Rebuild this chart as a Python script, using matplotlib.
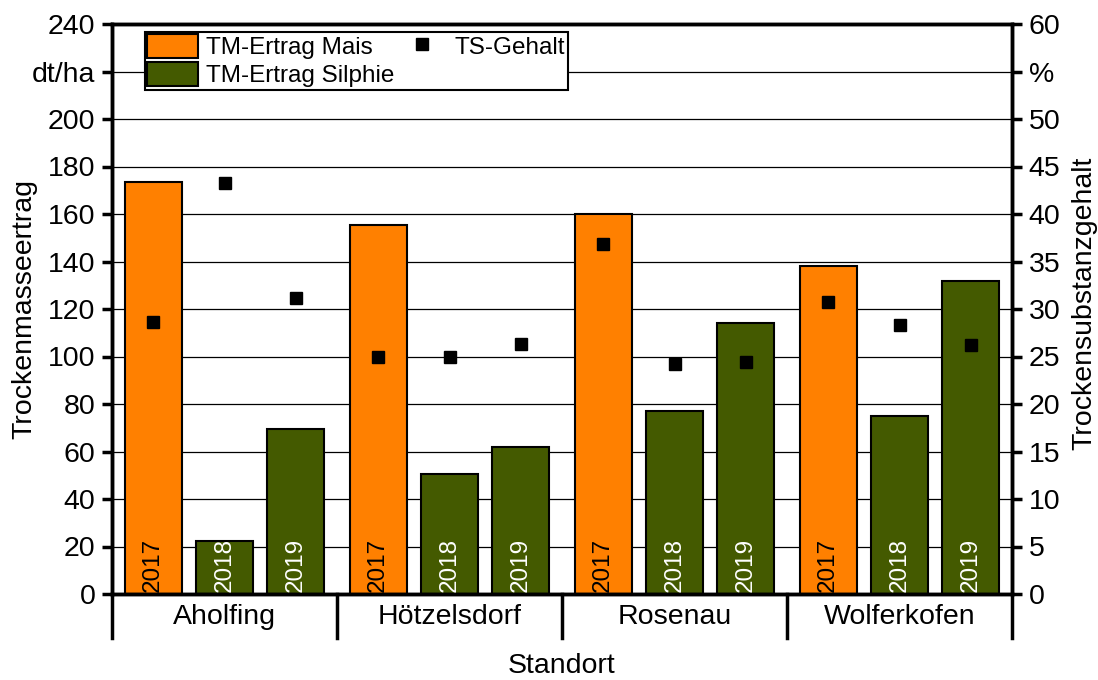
import matplotlib
matplotlib.use("Agg")
import matplotlib.pyplot as plt
from matplotlib.lines import Line2D
from matplotlib.patches import Patch
import matplotlib.transforms as mtransforms

plt.rcParams['font.family'] = ['Liberation Sans', 'DejaVu Sans']

standorte = ["Aholfing", "Hötzelsdorf", "Rosenau", "Wolferkofen"]
jahre = ["2017", "2018", "2019"]
kultur = ["Mais", "Silphie", "Silphie"]
ertrag = [
    [173.5, 22.5, 69.5],
    [155.5, 50.5, 62.0],
    [160.0, 77.0, 114.0],
    [138.0, 75.0, 132.0],
]
ts_gehalt = [
    [28.6, 43.3, 31.2],
    [25.0, 24.9, 26.3],
    [36.8, 24.2, 24.4],
    [30.7, 28.3, 26.2],
]
left_ticks = [0, 20, 40, 60, 80, 100, 120, 140, 160, 180, 200, 220, 240]
left_labels = ["0", "20", "40", "60", "80", "100", "120", "140", "160", "180", "200", "dt/ha", "240"]
right_ticks = [0, 5, 10, 15, 20, 25, 30, 35, 40, 45, 50, 55, 60]
right_labels = ["0", "5", "10", "15", "20", "25", "30", "35", "40", "45", "50", "%", "60"]

c_mais = "#FF8000"
c_silphie = "#445A00"

fig = plt.figure(figsize=(10.98, 6.8), dpi=100)
ax = fig.add_axes([112/1098, 86/680, 900/1098, 570/680])
ax2 = ax.twinx()

fs = 20.5
for g, name in enumerate(standorte):
    for i, yr in enumerate(jahre):
        x = g * 3 + 1 + (i - 1) * 0.953
        col = c_mais if kultur[i] == "Mais" else c_silphie
        ax.bar(x, ertrag[g][i], width=0.76, color=col, edgecolor="black", linewidth=1.5, zorder=2)
        ax.text(x, 1.0, yr, rotation=90, ha="center", va="bottom", fontsize=17.5,
                color="black" if kultur[i] == "Mais" else "white", zorder=3)
        ax2.plot(x, ts_gehalt[g][i], marker="s", color="black", ms=8.5, ls="none", zorder=4)

ax.set_xlim(-0.5, 11.5)
ax.set_ylim(0, 240)
ax2.set_ylim(0, 60)
ax.set_yticks(left_ticks)
ax.set_yticklabels(left_labels, fontsize=fs)
ax2.set_yticks(right_ticks)
ax2.set_yticklabels(right_labels, fontsize=fs)
ax.set_xticks([])
ax.yaxis.grid(True, color="black", linewidth=0.9)
ax.set_axisbelow(True)

for a in (ax, ax2):
    for s in a.spines.values():
        s.set_linewidth(2.5)
    a.tick_params(axis="y", length=7, width=2.5, pad=5)

ax.set_ylabel("Trockenmasseertrag", fontsize=fs)
ax.yaxis.set_label_coords(-0.083, 0.5)
ax2.set_ylabel("Trockensubstanzgehalt", fontsize=fs)
ax2.yaxis.set_label_coords(1.0665, 0.51)

trans = mtransforms.blended_transform_factory(ax.transData, ax.transAxes)
for b in [-0.5, 2.5, 5.5, 8.5, 11.5]:
    ax.add_line(Line2D([b, b], [0, -44/570], transform=trans, color="black",
                       linewidth=2.5, clip_on=False))
for g, name in enumerate(standorte):
    ax.text(g * 3 + 1, -23/570, name, transform=trans, ha="center", va="center", fontsize=fs)
ax.text(0.5, -72/570, "Standort", transform=ax.transAxes, ha="center", va="center", fontsize=fs)

handles = [
    Patch(facecolor=c_mais, edgecolor="black", linewidth=1.5, label="TM-Ertrag Mais"),
    Patch(facecolor=c_silphie, edgecolor="black", linewidth=1.5, label="TM-Ertrag Silphie"),
    Line2D([], [], marker="s", color="black", ls="none", ms=8.5, label="TS-Gehalt"),
]
leg = ax2.legend(handles=handles, ncol=2, loc="upper left", bbox_to_anchor=(33/900, 1 - 8/570),
                 fontsize=17.5, frameon=True, fancybox=False, framealpha=1, edgecolor="black",
                 borderpad=0.1, labelspacing=0.12, handlelength=2.1, handleheight=1.1,
                 handletextpad=0.3, columnspacing=0.1, borderaxespad=0)
leg.get_frame().set_linewidth(1.5)

fig.savefig("out.png", dpi=100)
